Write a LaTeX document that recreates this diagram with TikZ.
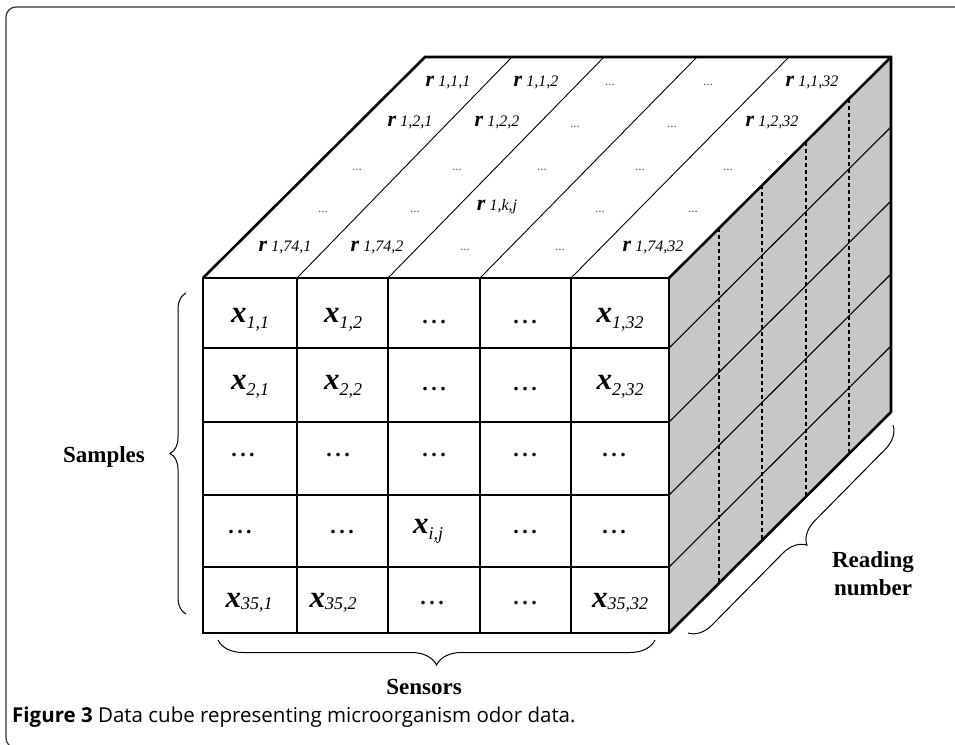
\documentclass[tikz,border=0pt]{standalone}
\usepackage{fontspec}
\setmainfont{Liberation Serif}
\newfontfamily\capfont{Open Sans}
\usetikzlibrary{decorations.pathreplacing,calc}
\newcommand{\xcell}[2]{{\fontsize{31}{31}\selectfont\textbf{\textit{x}}}\raisebox{-#2pt}{\fontsize{18}{18}\selectfont\textit{#1}}}
\newcommand{\rcell}[1]{{\fontsize{22}{22}\selectfont\textbf{\textit{r}}}\hspace{4pt}{\fontsize{16}{16}\selectfont\textit{#1}}}
\newcommand{\bdots}{{\fontsize{22}{22}\selectfont\textbf{.\kern3.5pt.\kern3.5pt.}}}
\newcommand{\tdots}{{\fontsize{13}{13}\selectfont\color{black!65}...}}
\begin{document}
\begin{tikzpicture}[x=1pt,y=-1pt,
  thickedge/.style={line width=2.6pt, line join=miter},
  gridline/.style={line width=1.4pt},
  topline/.style={line width=0.9pt},
  sideline/.style={line width=1.1pt},
  dashline/.style={line width=1.3pt, dash pattern=on 4pt off 3pt},
  bracestyle/.style={line width=1pt, decorate, decoration={brace, amplitude=#1}},
  cell/.style={inner sep=0pt},
  lbl/.style={font=\fontsize{23}{28}\selectfont\bfseries, inner sep=0pt, align=center}]
\useasboundingbox (0,0) rectangle (955,744);
\draw[line width=1.2pt, draw=black!80, rounded corners=10pt] (965,7) -- (6,7) -- (6,748) -- (965,748);

% cube corners
\coordinate (FTL) at (203,278);
\coordinate (FTR) at (669,278);
\coordinate (FBL) at (203,633);
\coordinate (FBR) at (669,633);
\coordinate (BTL) at (425,57);
\coordinate (BTR) at (891,57);
\coordinate (BBR) at (891,412);

\fill[white] (FTL) -- (BTL) -- (BTR) -- (FTR) -- cycle;
\fill[black!22] (FTR) -- (BTR) -- (BBR) -- (FBR) -- cycle;

% top face column lines
\foreach \a/\b [count=\i] in {297/512,388/604,480/697,571/789} {
  \coordinate (TA\i) at (\a,278); \coordinate (TB\i) at (\b,57);
  \draw[topline] (TA\i) -- (TB\i);
}
% right face diagonal lines
\foreach \y [count=\i] in {348,422,495,567} {
  \coordinate (RA\i) at (669,\y); \coordinate (RB\i) at (891,\y-221);
  \draw[sideline] (RA\i) -- (RB\i);
}
% right face dashed lines
\foreach \t [count=\i] in {0.225,0.419,0.617,0.811} {
  \coordinate (DA\i) at ($(FTR)!\t!(BTR)$); \coordinate (DB\i) at ($(FBR)!\t!(BBR)$);
  \draw[dashline] (DA\i) -- (DB\i);
}
% front grid
\foreach \x [count=\i] in {297,388,480,571} {
  \coordinate (GA\i) at (\x,278); \coordinate (GB\i) at (\x,633);
  \draw[gridline] (GA\i) -- (GB\i);
}
\foreach \y [count=\i] in {348,422,495,567} {
  \coordinate (HA\i) at (203,\y); \coordinate (HB\i) at (669,\y);
  \draw[gridline] (HA\i) -- (HB\i);
}
% outline
\draw[thickedge] (FTL) -- (FTR) -- (FBR) -- (FBL) -- cycle;
\draw[thickedge] (FTL) -- (BTL) -- (BTR) -- (BBR) -- (FBR);
\draw[thickedge] (FTR) -- (BTR);

% top face texts
\node[cell] (t11) at (448,82) {\rcell{1,1,1}};
\node[cell] (t12) at (536,82) {\rcell{1,1,2}};
\node[cell] (t13) at (610,85) {\tdots};
\node[cell] (t14) at (708,85) {\tdots};
\node[cell] (t15) at (812,82) {\rcell{1,1,32}};
\node[cell] (t21) at (410,122) {\rcell{1,2,1}};
\node[cell] (t22) at (497,122) {\rcell{1,2,2}};
\node[cell] (t23) at (575,127) {\tdots};
\node[cell] (t24) at (672,127) {\tdots};
\node[cell] (t25) at (772,122) {\rcell{1,2,32}};
\node[cell] (t31) at (357,170) {\tdots};
\node[cell] (t32) at (457,170) {\tdots};
\node[cell] (t33) at (542,170) {\tdots};
\node[cell] (t34) at (640,170) {\tdots};
\node[cell] (t35) at (728,170) {\tdots};
\node[cell] (t41) at (323,212) {\tdots};
\node[cell] (t42) at (415,212) {\tdots};
\node[cell] (t43) at (497,207) {\rcell{1,k,j}};
\node[cell] (t44) at (600,212) {\tdots};
\node[cell] (t45) at (693,212) {\tdots};
\node[cell] (t51) at (285,247) {\rcell{1,74,1}};
\node[cell] (t52) at (377,247) {\rcell{1,74,2}};
\node[cell] (t53) at (465,250) {\tdots};
\node[cell] (t54) at (560,250) {\tdots};
\node[cell] (t55) at (653,247) {\rcell{1,74,32}};

% front face texts
\node[cell] (c11) at (250,320) {\xcell{1,1}{6}};
\node[cell] (c12) at (343,320) {\xcell{1,2}{6}};
\node[cell] (c13) at (434,322) {\bdots};
\node[cell] (c14) at (525,322) {\bdots};
\node[cell] (c15) at (620,320) {\xcell{1,32}{6}};
\node[cell] (c21) at (250,387) {\xcell{2,1}{6}};
\node[cell] (c22) at (343,387) {\xcell{2,2}{6}};
\node[cell] (c23) at (434,389) {\bdots};
\node[cell] (c24) at (525,389) {\bdots};
\node[cell] (c25) at (620,387) {\xcell{2,32}{6}};
\node[cell] (c31) at (243,455) {\bdots};
\node[cell] (c32) at (338,455) {\bdots};
\node[cell] (c33) at (434,455) {\bdots};
\node[cell] (c34) at (525,455) {\bdots};
\node[cell] (c35) at (614,455) {\bdots};
\node[cell] (c41) at (240,532) {\bdots};
\node[cell] (c42) at (342,532) {\bdots};
\node[cell] (c43) at (428,531) {\xcell{i,j}{6}};
\node[cell] (c44) at (525,532) {\bdots};
\node[cell] (c45) at (614,532) {\bdots};
\node[cell] (c51) at (249,603) {\xcell{35,1}{2}};
\node[cell] (c52) at (333,603) {\xcell{35,2}{2}};
\node[cell] (c53) at (432,603) {\bdots};
\node[cell] (c54) at (525,603) {\bdots};
\node[cell] (c55) at (620,603) {\xcell{35,32}{2}};

% braces and labels
\coordinate (SbA) at (186,614); \coordinate (SbB) at (186,293);
\draw[bracestyle=16pt] (SbA) -- (SbB);
\node[lbl] (samples) at (104,457) {Samples};
\coordinate (EbA) at (655,640); \coordinate (EbB) at (218,640);
\draw[bracestyle=25pt] (EbA) -- (EbB);
\node[lbl] (sensors) at (424,687) {Sensors};
\coordinate (RbA) at (893,425); \coordinate (RbB) at (688,633);
\draw[bracestyle=23pt] (RbA) -- (RbB);
\node[lbl] (reading) at (873,574) {Reading\\number};

% caption
\node[anchor=west, inner sep=0pt, font=\capfont\fontsize{20.5}{20.5}\selectfont] (caption) at (12,717) {\textbf{Figure 3} Data cube representing microorganism odor data.};
\end{tikzpicture}
\end{document}
